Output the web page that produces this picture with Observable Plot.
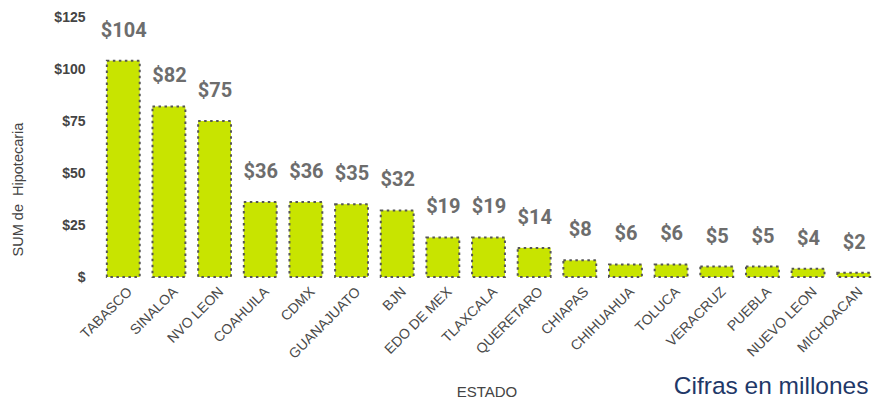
<!DOCTYPE html>
<html>
<head>
<meta charset="utf-8">
<script src="https://cdn.jsdelivr.net/npm/d3@7"></script>
<script src="https://cdn.jsdelivr.net/npm/@observablehq/plot@0.6"></script>
<style>
  html, body { margin: 0; padding: 0; background: #fff; }
  #chart { width: 879px; height: 404px; }
</style>
</head>
<body>
<div id="chart"></div>
<script>
const estados = ["TABASCO", "SINALOA", "NVO LEON", "COAHUILA", "CDMX", "GUANAJUATO", "BJN", "EDO DE MEX", "TLAXCALA", "QUERETARO", "CHIAPAS", "CHIHUAHUA", "TOLUCA", "VERACRUZ", "PUEBLA", "NUEVO LEON", "MICHOACAN"];
const hipotecaria = [104, 82, 75, 36, 36, 35, 32, 19, 19, 14, 8, 6, 6, 5, 5, 4, 2];
const yTicks = [0, 25, 50, 75, 100, 125];
const yLabel = "SUM de  Hipotecaria";
const xLabel = "ESTADO";
const note = "Cifras en millones";

const data = estados.map((e, i) => ({estado: e, valor: hipotecaria[i]}));

const chart = Plot.plot({
  width: 879,
  height: 404,
  marginLeft: 100,
  marginRight: 2,
  marginTop: 17,
  marginBottom: 127,
  style: {fontFamily: "Liberation Sans, Arial, sans-serif", background: "#fff"},
  x: {domain: estados, paddingInner: 0.28, paddingOuter: 0.15, round: false, label: null},
  y: {domain: [0, 125], label: null},
  marks: [
    Plot.gridY(yTicks, {stroke: "#e0e0e0", strokeOpacity: 1, x1: 95}),
    Plot.barY(data, {x: "estado", y: "valor", fill: "#c8e400", stroke: "#555", strokeWidth: 2, strokeDasharray: "2.5,3.5"}),
    Plot.ruleY([0], {stroke: "#9a9ac0", strokeWidth: 1.5, x1: 93}),
    Plot.text(data, {x: "estado", y: "valor", text: d => "$" + d.valor, dy: -31, fill: "#6d6d6d", fontSize: 20, fontWeight: 700, fontFamily: "Roboto, sans-serif"}),
    Plot.axisY(yTicks, {tickSize: 0, tickPadding: 15, label: null, fontSize: 14, fontWeight: 700, fill: "#444", tickFormat: d => d === 0 ? "$" : "$" + d}),
    Plot.axisX({tickSize: 0, tickPadding: 12, dx: 6, tickRotate: -45, label: null, fontSize: 14, fill: "#4a4a4a"}),
    Plot.text([yLabel], {frameAnchor: "left", textAnchor: "middle", dx: -82, dy: 42, rotate: -90, fontSize: 14.5, fill: "#444"}),
    Plot.text([xLabel], {frameAnchor: "bottom", dx: -2, dy: 119, fontSize: 15, fill: "#444"}),
    Plot.text([note], {frameAnchor: "bottom-right", dx: -9, dy: 116, textAnchor: "end", fontSize: 24.5, fill: "#1f3868"})
  ]
});
document.getElementById("chart").appendChild(chart);
</script>
</body>
</html>
